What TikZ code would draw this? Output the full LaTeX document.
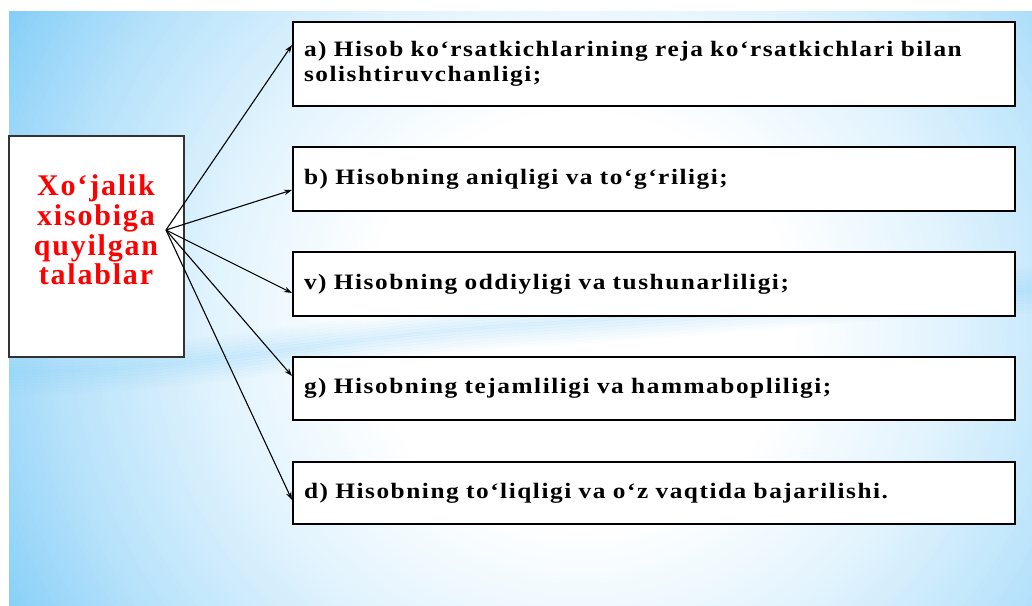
\documentclass[tikz,border=0pt]{standalone}
\usepackage{fontspec}
\setmainfont{Liberation Serif}
\newfontfamily\boxfont[LetterSpace=7,FakeStretch=1.15]{Liberation Serif}
\newfontfamily\redfont[LetterSpace=6]{Liberation Serif}
\usetikzlibrary{arrows.meta,calc}
\definecolor{skyb}{RGB}{135,207,248}
\definecolor{redt}{RGB}{255,0,0}
\tikzset{
  rbox/.style={draw=black, line width=2pt, fill=white, minimum width=722pt,
    minimum height=#1, anchor=west, inner xsep=11pt, inner ysep=0pt, text width=700pt, align=left,
    font=\boxfont\bfseries\fontsize{22}{25}\selectfont},
  lbox/.style={draw=black!80, line width=1.5pt, fill=white, minimum width=175pt,
    minimum height=221pt, inner sep=0pt},
  ltext/.style={text=redt, align=center, inner sep=0pt,
    font=\redfont\bfseries\fontsize{30}{29.7}\selectfont},
  arr/.style={draw=black, line width=1.1pt, -{Stealth[length=8pt,width=5.5pt]}}
}
\begin{document}
\begin{tikzpicture}[x=1pt,y=-1pt]
\useasboundingbox (0,0) rectangle (1032,605);
\fill[white] (0,0) rectangle (1032,605);
\begin{scope}
\clip (9,11) rectangle (1032,605);
\fill[skyb] (9,11) rectangle (1032,605);
\foreach \i in {0,...,80}{
  \pgfmathsetmacro{\t}{1.1-\i*0.01}
  \pgfmathsetmacro{\p}{\t>=0.85 ? min(100,60+(\t-0.85)*200) : (\t>=0.6 ? 25+(\t-0.6)*140 : max(0,(\t-0.35)*100))}
  \fill[skyb!\p!white] (580,320) ellipse [x radius=620*\t, y radius=600*\t];
}
\foreach \k in {-7,...,7}{
  \pgfmathsetmacro{\op}{0.3*(1-abs(\k)/8)}
  \draw[skyb, line width=3.2pt, opacity=\op, yshift=3*\k pt]
    (9,372) .. controls (200,372) and (320,338) .. (520,325) .. controls (760,310) and (900,292) .. (1032,290);
}
\end{scope}

\node[lbox] (L) at (96.5,246.5) {};
\node[ltext] (Lt) at (96,230) {Xo‘jalik\\xisobiga\\quyilgan\\talablar};
\coordinate (o) at (166,230);

\node[rbox=84pt] (a) at (292,64) {a) Hisob ko‘rsatkichlarining reja ko‘rsatkichlari bilan\\solishtiruvchanligi;};
\node[rbox=64pt] (b) at (292,179) {b) Hisobning aniqligi va to‘g‘riligi;};
\node[rbox=64pt] (v) at (292,284) {v) Hisobning oddiyligi va tushunarliligi;};
\node[rbox=63pt] (g) at (292,388.5) {g) Hisobning tejamliligi va hammabopliligi;};
\node[rbox=62pt] (d) at (292,493) {d) Hisobning to‘liqligi va o‘z vaqtida bajarilishi.};

\draw[arr] (o) -- ([yshift=19pt]a.west);
\draw[arr] (o) -- ([yshift=-11pt]b.west);
\draw[arr] (o) -- ([yshift=-9pt]v.west);
\draw[arr] (o) -- ([yshift=12.5pt]g.west);
\draw[arr] (o) -- ([yshift=-7pt]d.west);
\end{tikzpicture}
\end{document}
